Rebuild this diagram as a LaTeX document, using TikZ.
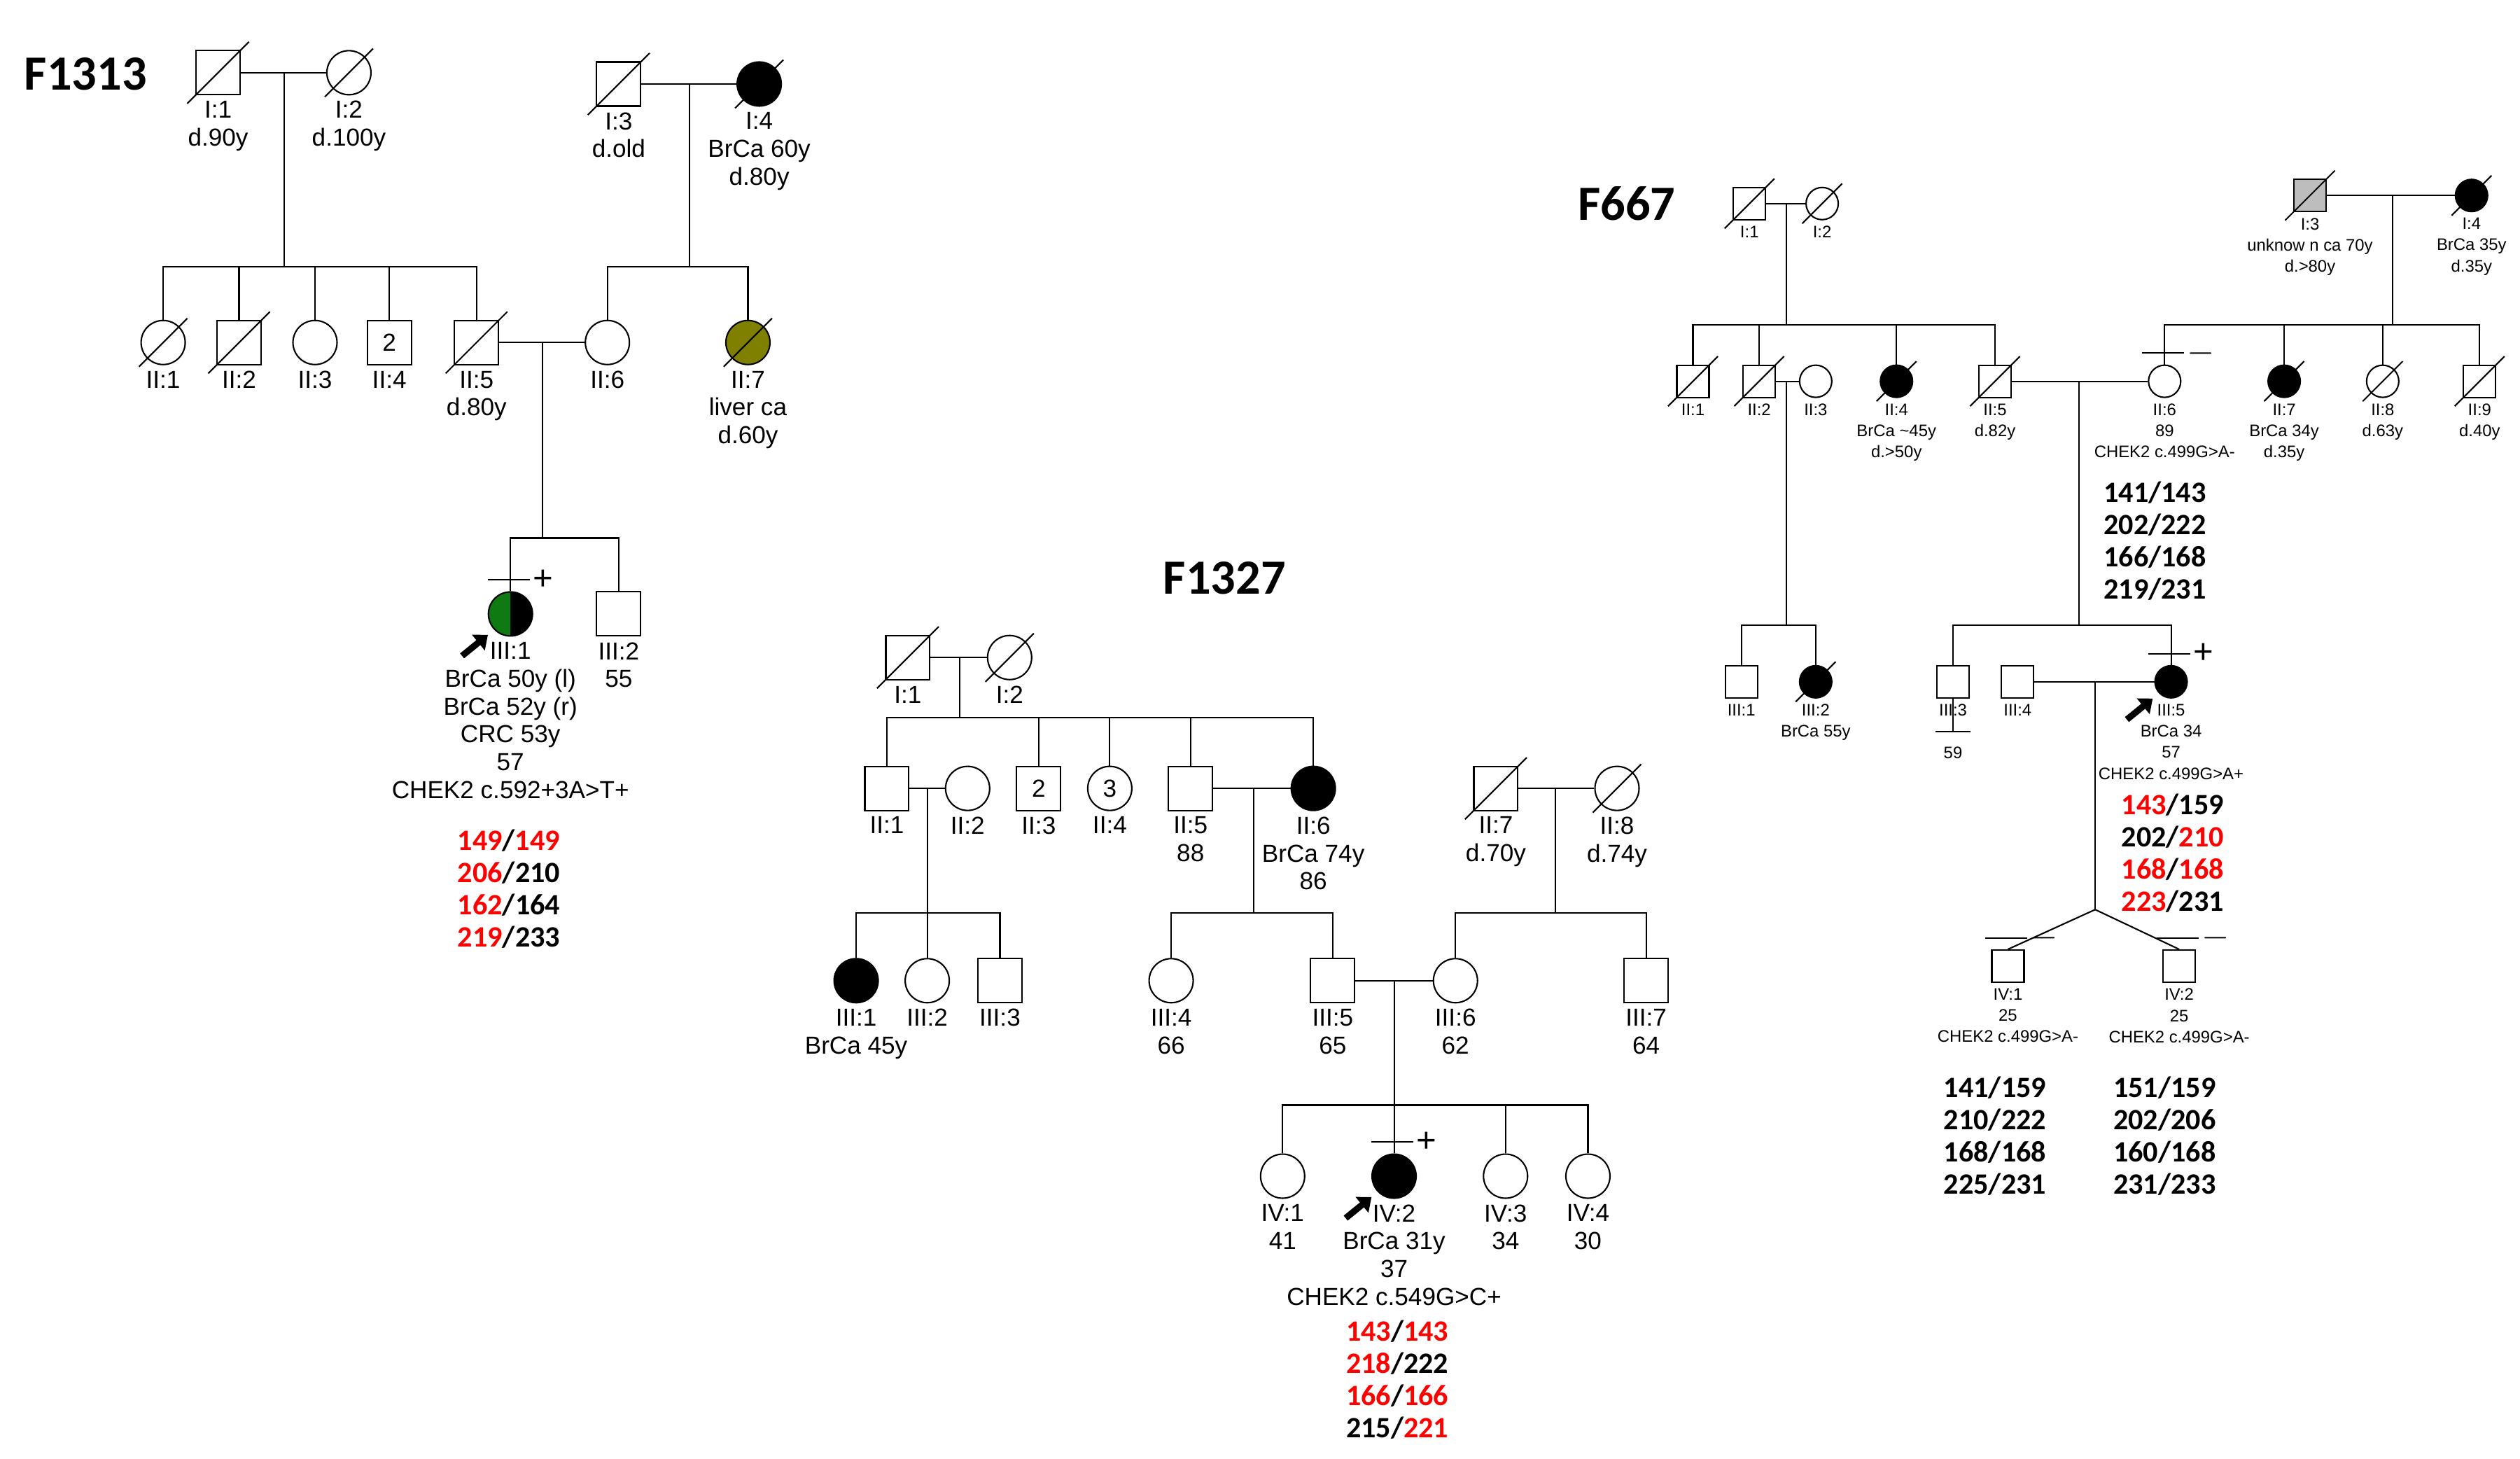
\documentclass[tikz,border=0pt]{standalone}
\usepackage{fontspec}
\setmainfont{Liberation Sans}
\newfontfamily\calib{Carlito}
\usetikzlibrary{positioning,arrows.meta}
\definecolor{pgreen}{HTML}{0F7A12}
\definecolor{polive}{HTML}{808000}
\definecolor{pgrey}{HTML}{BDBDBD}
\newcommand\R[1]{\textcolor{red}{#1}}
\newcommand\dead[1]{\draw ([shift={(-5,5)}]#1.south west) -- ([shift={(5,-5)}]#1.north east);}
\newcommand\tested[2]{\draw ([shift={(-14,-7)}]#1.north) -- ([shift={(12,-7)}]#1.north)
  node[anchor=west,inner sep=1pt,font=\fontsize{14}{14}\selectfont] {#2};}
\newcommand\proband[1]{\draw[-{Triangle[length=5pt,width=8pt]},line width=2.6pt]
  ([shift={(-20,16)}]#1.south west) -- ([shift={(-4,3)}]#1.south west);}
\begin{document}
\begin{tikzpicture}[x=0.02308cm,y=-0.02308cm,line width=0.6pt]
	\tikzstyle{m} = [draw, rectangle, minimum size=0.63cm, inner sep=0pt]
	\tikzstyle{f} = [draw, circle, minimum size=0.63cm, inner sep=0pt]
	\tikzstyle{ms} = [draw, rectangle, minimum size=0.46cm, inner sep=0pt]
	\tikzstyle{fs} = [draw, circle, minimum size=0.46cm, inner sep=0pt]
	\tikzstyle{aff} = [fill=black]
	\tikzstyle{lab} = [align=center, inner sep=0pt, font=\fontsize{10}{11.3}\selectfont]
	\tikzstyle{labs} = [align=center, inner sep=0pt, font=\fontsize{6.8}{8.6}\selectfont]
	\tikzstyle{alle} = [align=center, inner sep=0pt, font=\calib\bfseries\fontsize{12}{13.1}\selectfont]
	\tikzstyle{title} = [inner sep=0pt, font=\calib\bfseries\fontsize{20}{20}\selectfont]
	\useasboundingbox (0,0) rectangle (1560,903);

	% F1313
	\node[title] (t1313) at (53,46) {F1313};
	\node[m] (a-I1) at (135,45) {};
	\node[f] (a-I2) at (216,45) {};
	\node[m] (a-I3) at (383,52) {};
	\node[f,aff] (a-I4) at (470,52) {};
	\node[f] (a-II1) at (101,212) {};
	\node[m] (a-II2) at (148,212) {};
	\node[f] (a-II3) at (195,212) {};
	\node[m] (a-II4) at (241,212) {2};
	\node[m] (a-II5) at (295,212) {};
	\node[f] (a-II6) at (376,212) {};
	\node[f,fill=polive] (a-II7) at (463,212) {};
	\node[f,path picture={
		\fill[pgreen] (path picture bounding box.south west) rectangle (path picture bounding box.north);
		\fill[black] (path picture bounding box.south) rectangle (path picture bounding box.north east);}]
		(a-III1) at (316,380) {};
	\node[m] (a-III2) at (383,380) {};
	\foreach \n in {a-I1,a-I2,a-I3,a-I4,a-II1,a-II2,a-II5,a-II7} {\dead{\n}}
	\coordinate (a-m1) at (176,45);   \coordinate (a-s1) at (176,165);
	\coordinate (a-m2) at (427,52);   \coordinate (a-s2) at (427,165);
	\coordinate (a-m3) at (336,212);  \coordinate (a-s3) at (336,333);
	\draw (a-I1) -- (a-I2);  \draw (a-I3) -- (a-I4);  \draw (a-II5) -- (a-II6);
	\draw (a-m1) -- (a-s1);  \draw (a-m2) -- (a-s2);  \draw (a-m3) -- (a-s3);
	\foreach \n in {a-II1,a-II2,a-II3,a-II4,a-II5} {\draw (\n.north) |- (a-s1);}
	\foreach \n in {a-II6,a-II7} {\draw (\n.north) |- (a-s2);}
	\foreach \n in {a-III1,a-III2} {\draw (\n.north) |- (a-s3);}
	\tested{a-III1}{+}
	\proband{a-III1}
	\node[lab,below=2pt of a-I1] (la-I1) {I:1\\d.90y};
	\node[lab,below=2pt of a-I2] (la-I2) {I:2\\d.100y};
	\node[lab,below=2pt of a-I3] (la-I3) {I:3\\d.old};
	\node[lab,below=2pt of a-I4] (la-I4) {I:4\\BrCa 60y\\d.80y};
	\node[lab,below=2pt of a-II1] (la-II1) {II:1};
	\node[lab,below=2pt of a-II2] (la-II2) {II:2};
	\node[lab,below=2pt of a-II3] (la-II3) {II:3};
	\node[lab,below=2pt of a-II4] (la-II4) {II:4};
	\node[lab,below=2pt of a-II5] (la-II5) {II:5\\d.80y};
	\node[lab,below=2pt of a-II6] (la-II6) {II:6};
	\node[lab,below=2pt of a-II7] (la-II7) {II:7\\liver ca\\d.60y};
	\node[lab,below=2pt of a-III1] (la-III1) {III:1\\BrCa 50y (l)\\BrCa 52y (r)\\CRC 53y\\57\\CHEK2 c.592+3A>T+};
	\node[lab,below=2pt of a-III2] (la-III2) {III:2\\55};
	\node[alle] (al-a) at (315,550) {\R{149}/\R{149}\\\R{206}/210\\\R{162}/164\\\R{219}/233};

	% F1327
	\node[title] (t1327) at (758,358) {F1327};
	\node[m] (b-I1) at (562,407) {};
	\node[f] (b-I2) at (625,407) {};
	\node[m] (b-II1) at (549,488) {};
	\node[f] (b-II2) at (599,488) {};
	\node[m] (b-II3) at (643,488) {2};
	\node[f] (b-II4) at (687,488) {3};
	\node[m] (b-II5) at (737,488) {};
	\node[f,aff] (b-II6) at (813,488) {};
	\node[m] (b-I7) at (926,488) {};
	\node[f] (b-I8) at (1001,488) {};
	\node[f,aff] (b-III1) at (530,607) {};
	\node[f] (b-III2) at (574,607) {};
	\node[m] (b-III3) at (619,607) {};
	\node[f] (b-III4) at (725,607) {};
	\node[m] (b-III5) at (825,607) {};
	\node[f] (b-III6) at (901,607) {};
	\node[m] (b-III7) at (1019,607) {};
	\node[f] (b-IV1) at (794,728) {};
	\node[f,aff] (b-IV2) at (863,728) {};
	\node[f] (b-IV3) at (932,728) {};
	\node[f] (b-IV4) at (983,728) {};
	\foreach \n in {b-I1,b-I2,b-I7,b-I8} {\dead{\n}}
	\coordinate (b-m1) at (594,407);  \coordinate (b-s1) at (594,444);
	\coordinate (b-m2) at (574,488);  \coordinate (b-s2) at (574,565);
	\coordinate (b-m3) at (776,488);  \coordinate (b-s3) at (776,565);
	\coordinate (b-m4) at (963,488);  \coordinate (b-s4) at (963,565);
	\coordinate (b-m5) at (863,607);  \coordinate (b-s5) at (863,684);
	\draw (b-I1) -- (b-I2);  \draw (b-II1) -- (b-II2);  \draw (b-II5) -- (b-II6);
	\draw (b-I7) -- (b-I8);  \draw (b-III5) -- (b-III6);
	\draw (b-m1) -- (b-s1);  \draw (b-m2) -- (b-s2);  \draw (b-m3) -- (b-s3);
	\draw (b-m4) -- (b-s4);  \draw (b-m5) -- (b-s5);
	\foreach \n in {b-II1,b-II3,b-II4,b-II5,b-II6} {\draw (\n.north) |- (b-s1);}
	\foreach \n in {b-III1,b-III2,b-III3} {\draw (\n.north) |- (b-s2);}
	\foreach \n in {b-III4,b-III5} {\draw (\n.north) |- (b-s3);}
	\foreach \n in {b-III6,b-III7} {\draw (\n.north) |- (b-s4);}
	\foreach \n in {b-IV1,b-IV2,b-IV3,b-IV4} {\draw (\n.north) |- (b-s5);}
	\tested{b-IV2}{+}
	\proband{b-IV2}
	\node[lab,below=2pt of b-I1] (lb-I1) {I:1};
	\node[lab,below=2pt of b-I2] (lb-I2) {I:2};
	\node[lab,below=2pt of b-II1] (lb-II1) {II:1};
	\node[lab,below=2pt of b-II2] (lb-II2) {II:2};
	\node[lab,below=2pt of b-II3] (lb-II3) {II:3};
	\node[lab,below=2pt of b-II4] (lb-II4) {II:4};
	\node[lab,below=2pt of b-II5] (lb-II5) {II:5\\88};
	\node[lab,below=2pt of b-II6] (lb-II6) {II:6\\BrCa 74y\\86};
	\node[lab,below=2pt of b-I7] (lb-I7) {II:7\\d.70y};
	\node[lab,below=2pt of b-I8] (lb-I8) {II:8\\d.74y};
	\node[lab,below=2pt of b-III1] (lb-III1) {III:1\\BrCa 45y};
	\node[lab,below=2pt of b-III2] (lb-III2) {III:2};
	\node[lab,below=2pt of b-III3] (lb-III3) {III:3};
	\node[lab,below=2pt of b-III4] (lb-III4) {III:4\\66};
	\node[lab,below=2pt of b-III5] (lb-III5) {III:5\\65};
	\node[lab,below=2pt of b-III6] (lb-III6) {III:6\\62};
	\node[lab,below=2pt of b-III7] (lb-III7) {III:7\\64};
	\node[lab,below=2pt of b-IV1] (lb-IV1) {IV:1\\41};
	\node[lab,below=2pt of b-IV2] (lb-IV2) {IV:2\\BrCa 31y\\37\\CHEK2 c.549G>C+};
	\node[lab,below=2pt of b-IV3] (lb-IV3) {IV:3\\34};
	\node[lab,below=2pt of b-IV4] (lb-IV4) {IV:4\\30};
	\node[alle] (al-b) at (865,854) {\R{143}/\R{143}\\\R{218}/222\\\R{166}/\R{166}\\215/\R{221}};

	% F667
	\node[title] (t667) at (1007,126) {F667};
	\node[ms] (c-I1) at (1083,126) {};
	\node[fs] (c-I2) at (1128,126) {};
	\node[ms,fill=pgrey] (c-I3) at (1430,121) {};
	\node[fs,aff] (c-I4) at (1530,121) {};
	\node[ms] (c-II1) at (1048,236) {};
	\node[ms] (c-II2) at (1089,236) {};
	\node[fs] (c-II3) at (1124,236) {};
	\node[fs,aff] (c-II4) at (1174,236) {};
	\node[ms] (c-II5) at (1235,236) {};
	\node[fs] (c-II6) at (1340,236) {};
	\node[fs,aff] (c-II7) at (1414,236) {};
	\node[fs] (c-II8) at (1475,236) {};
	\node[ms] (c-II9) at (1535,236) {};
	\node[ms] (c-III1) at (1078,422) {};
	\node[fs,aff] (c-III2) at (1124,422) {};
	\node[ms] (c-III3) at (1209,422) {};
	\node[ms] (c-III4) at (1249,422) {};
	\node[fs,aff] (c-III5) at (1344,422) {};
	\node[ms] (c-IV1) at (1243,598) {};
	\node[ms] (c-IV2) at (1349,598) {};
	\foreach \n in {c-I1,c-I2,c-I3,c-I4,c-II1,c-II2,c-II4,c-II5,c-II7,c-II8,c-II9,c-III2} {\dead{\n}}
	\coordinate (c-m1) at (1106,126);  \coordinate (c-s1) at (1106,201);
	\coordinate (c-m2) at (1481,121);  \coordinate (c-s2) at (1481,201);
	\coordinate (c-m3) at (1106,236);  \coordinate (c-s3) at (1106,387);
	\coordinate (c-m4) at (1287,236);  \coordinate (c-s4) at (1287,387);
	\coordinate (c-m5) at (1297,422);  \coordinate (c-s5) at (1297,563);
	\draw (c-I1) -- (c-I2);  \draw (c-I3) -- (c-I4);  \draw (c-II2) -- (c-II3);
	\draw (c-II5) -- (c-II6);  \draw (c-III4) -- (c-III5);
	\draw (c-m1) -- (c-s1);  \draw (c-m2) -- (c-s2);  \draw (c-m3) -- (c-s3);
	\draw (c-m4) -- (c-s4);  \draw (c-m5) -- (c-s5);
	\foreach \n in {c-II1,c-II2,c-II4,c-II5} {\draw (\n.north) |- (c-s1);}
	\foreach \n in {c-II6,c-II7,c-II8,c-II9} {\draw (\n.north) |- (c-s2);}
	\foreach \n in {c-III1,c-III2} {\draw (\n.north) |- (c-s3);}
	\foreach \n in {c-III3,c-III5} {\draw (\n.north) |- (c-s4);}
	\draw (c-IV1.north) -- (c-s5) -- (c-IV2.north);
	\tested{c-II6}{$-$}
	\tested{c-III5}{+}
	\tested{c-IV1}{$-$}
	\tested{c-IV2}{$-$}
	\proband{c-III5}
	\node[labs,below=2pt of c-I1] (lc-I1) {I:1};
	\node[labs,below=2pt of c-I2] (lc-I2) {I:2};
	\node[labs,below=2pt of c-I3] (lc-I3) {I:3\\unknow n ca 70y\\d.>80y};
	\node[labs,below=2pt of c-I4] (lc-I4) {I:4\\BrCa 35y\\d.35y};
	\node[labs,below=2pt of c-II1] (lc-II1) {II:1};
	\node[labs,below=2pt of c-II2] (lc-II2) {II:2};
	\node[labs,below=2pt of c-II3] (lc-II3) {II:3};
	\node[labs,below=2pt of c-II4] (lc-II4) {II:4\\BrCa \textasciitilde45y\\d.>50y};
	\node[labs,below=2pt of c-II5] (lc-II5) {II:5\\d.82y};
	\node[labs,below=2pt of c-II6] (lc-II6) {II:6\\89\\CHEK2 c.499G>A-};
	\node[labs,below=2pt of c-II7] (lc-II7) {II:7\\BrCa 34y\\d.35y};
	\node[labs,below=2pt of c-II8] (lc-II8) {II:8\\d.63y};
	\node[labs,below=2pt of c-II9] (lc-II9) {II:9\\d.40y};
	\node[labs,below=2pt of c-III1] (lc-III1) {III:1};
	\node[labs,below=2pt of c-III2] (lc-III2) {III:2\\BrCa 55y};
	\node[labs,below=2pt of c-III3] (lc-III3) {III:3};
	\coordinate (c-bar) at (1209,453);
	\draw (c-III3.south) -- (c-bar);
	\draw ([shift={(-11,0)}]c-bar) -- ([shift={(11,0)}]c-bar);
	\node[labs] (lc-III3a) at (1209,466) {59};
	\node[labs,below=2pt of c-III4] (lc-III4) {III:4};
	\node[labs,below=2pt of c-III5] (lc-III5) {III:5\\BrCa 34\\57\\CHEK2 c.499G>A+};
	\node[labs,below=2pt of c-IV1] (lc-IV1) {IV:1\\25\\CHEK2 c.499G>A-};
	\node[labs,below=2pt of c-IV2] (lc-IV2) {IV:2\\25\\CHEK2 c.499G>A-};
	\node[alle] (al-c1) at (1334,335) {141/143\\202/222\\166/168\\219/231};
	\node[alle] (al-c2) at (1345,528) {\R{143}/159\\202/\R{210}\\\R{168}/\R{168}\\\R{223}/231};
	\node[alle] (al-c3) at (1235,703) {141/159\\210/222\\168/168\\225/231};
	\node[alle] (al-c4) at (1340,703) {151/159\\202/206\\160/168\\231/233};
\end{tikzpicture}
\end{document}
